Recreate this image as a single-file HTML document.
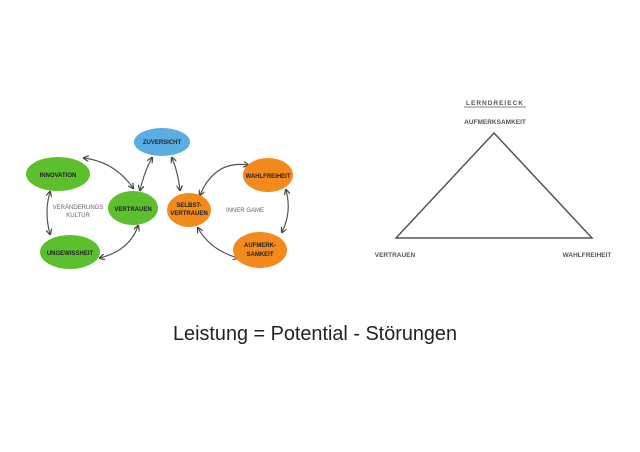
<!DOCTYPE html>
<html><head><meta charset="utf-8"><style>html,body{margin:0;padding:0;background:#fff}svg{display:block}</style></head><body>
<svg width="640" height="452" viewBox="0 0 640 452" xmlns="http://www.w3.org/2000/svg" font-family="Liberation Sans, sans-serif">
<defs><marker id="a" viewBox="0 0 10 10" refX="8" refY="5" markerWidth="5" markerHeight="5" orient="auto-start-reverse"><path d="M0,0 L10,5 L0,10" fill="none" stroke="#444" stroke-width="2"/></marker></defs>
<g fill="none" stroke="#555" stroke-width="1.2" marker-start="url(#a)" marker-end="url(#a)">
<path d="M84,158 Q115,162 133,188"/>
<path d="M140,190 Q145,170 152,158"/>
<path d="M172,158 Q178,172 180,190"/>
<path d="M200,195 Q215,160 248,165"/>
<path d="M286,190 Q292,212 282,232"/>
<path d="M198,228 Q210,250 238,258"/>
<path d="M50,192 Q44,212 50,234"/>
<path d="M100,258 Q130,250 138,226"/>
</g>
<g>
<ellipse cx="162" cy="142" rx="28" ry="14" fill="#5aaee4"/>
<ellipse cx="58" cy="174" rx="32" ry="17" fill="#5bbf2e"/>
<ellipse cx="133" cy="208" rx="25" ry="17" fill="#5bbf2e"/>
<ellipse cx="70" cy="252" rx="30" ry="17" fill="#5bbf2e"/>
<ellipse cx="189" cy="210" rx="22" ry="17" fill="#f28a1c"/>
<ellipse cx="268" cy="175" rx="25" ry="17" fill="#f28a1c"/>
<ellipse cx="260" cy="250" rx="27" ry="18" fill="#f28a1c"/>
</g>
<g font-size="6" font-weight="bold" fill="#222" text-anchor="middle">
<text x="162" y="144">ZUVERSICHT</text>
<text x="58" y="177">INNOVATION</text>
<text x="133" y="211">VERTRAUEN</text>
<text x="70" y="255">UNGEWISSHEIT</text>
<text x="189" y="207">SELBST-</text>
<text x="189" y="215">VERTRAUEN</text>
<text x="268" y="178">WAHLFREIHEIT</text>
<text x="260" y="247">AUFMERK-</text>
<text x="260" y="256">SAMKEIT</text>
</g>
<g font-size="6" fill="#666" text-anchor="middle">
<text x="78" y="209">VERÄNDERUNGS</text>
<text x="78" y="217">KULTUR</text>
<text x="245" y="212">INNER GAME</text>
</g>
<polygon points="494,133 396,238 592,238" fill="none" stroke="#555" stroke-width="1.5"/>
<g font-size="6.5" font-weight="bold" fill="#555" text-anchor="middle">
<text x="495" y="105" letter-spacing="1">LERNDREIECK</text>
<line x1="464" y1="107" x2="526" y2="107" stroke="#555" stroke-width="0.8"/>
<text x="495" y="124">AUFMERKSAMKEIT</text>
<text x="395" y="257">VERTRAUEN</text>
<text x="587" y="257">WAHLFREIHEIT</text>
</g>
<text x="173" y="340" font-size="20" fill="#222" textLength="284" lengthAdjust="spacingAndGlyphs">Leistung = Potential - Störungen</text>
</svg>
</body></html>
